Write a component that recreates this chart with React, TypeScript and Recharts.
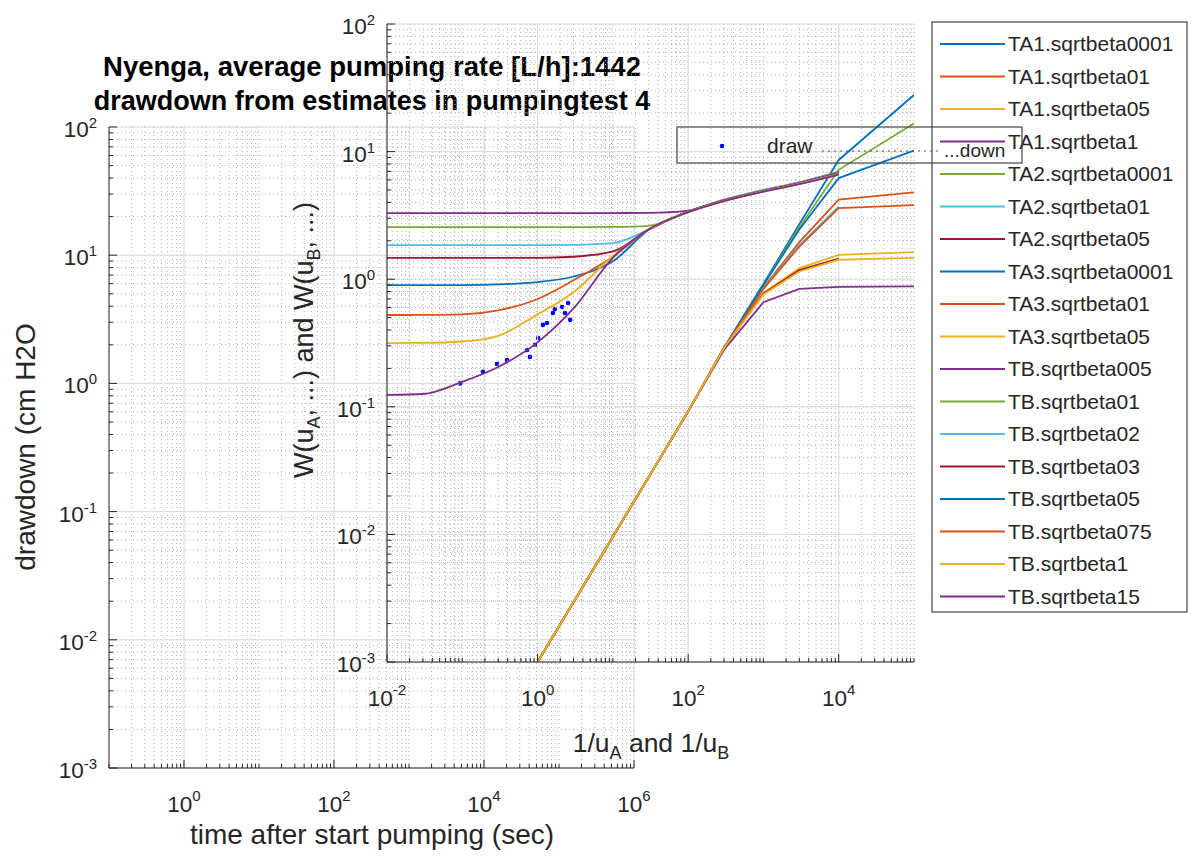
import React from "react";
import {
  CartesianGrid,
  ComposedChart,
  Line,
  LineChart,
  ReferenceLine,
  Scatter,
  XAxis,
  YAxis,
} from "recharts";

const FONT = '"Liberation Sans", Arial, Helvetica, sans-serif';
const INK = "#262626";

// outer axes: measured drawdown, pumpingtest 4
const timeSec = [4800, 9700, 14900, 20300, 37500, 41000, 48000, 52700, 61000, 69000, 83000, 88000, 110000, 120000, 132000, 141000];
const drawdownCm = [1.0, 1.23, 1.42, 1.52, 1.82, 1.61, 2.0, 2.26, 2.86, 2.96, 3.54, 3.8, 3.94, 3.54, 4.24, 3.13];

// labelled decades (exponents)
const outerXDecades = [0, 2, 4, 6];
const outerYDecades = [-3, -2, -1, 0, 1, 2];
const innerXDecades = [-2, 0, 2, 4];
const innerYDecades = [-3, -2, -1, 0, 1, 2];

// type A curves, x = 1/u_A
const typeAX = [1, 10, 100, 300, 1000, 3000, 10000, 100000];
const typeAXShort = [1, 10, 100, 300, 1000, 3000, 10000];
const ta1Beta0001 = [0.001, 0.0096, 0.092, 0.29, 0.92, 2.7, 8.6, 27.8];
const ta1Beta01 = [0.001, 0.0096, 0.092, 0.29, 0.86, 1.95, 4.2, 4.8];
const ta1Beta05 = [0.001, 0.0096, 0.092, 0.29, 0.78, 1.22, 1.55, 1.63];
const ta1Beta1 = [0.001, 0.0096, 0.092, 0.28, 0.66, 0.84, 0.87, 0.88];
const ta2Beta0001 = [0.001, 0.0096, 0.092, 0.29, 0.91, 2.55, 7.2, 16.6];
const ta2Beta01 = [0.001, 0.0096, 0.092, 0.29, 0.85, 1.85, 3.7];
const ta2Beta05 = [0.001, 0.0096, 0.092, 0.29, 0.77, 1.18, 1.45];
const ta3Beta0001 = [0.001, 0.0096, 0.092, 0.29, 0.9, 2.45, 6.2, 10.2];
const ta3Beta01 = [0.001, 0.0096, 0.092, 0.29, 0.84, 1.8, 3.6, 3.8];
const ta3Beta05 = [0.001, 0.0096, 0.092, 0.29, 0.76, 1.15, 1.42, 1.47];

// type B curves, x = 1/u_B
const typeBX = [0.01, 0.03, 0.1, 0.3, 1, 3, 10, 30, 100, 300, 1000, 3000, 10000];
const tbBeta005 = [3.3, 3.3, 3.3, 3.3, 3.3, 3.3, 3.3, 3.31, 3.45, 4.2, 5.0, 5.75, 6.95];
const tbBeta01 = [2.56, 2.56, 2.56, 2.56, 2.56, 2.56, 2.57, 2.62, 3.4, 4.18, 4.98, 5.72, 6.9];
const tbBeta02 = [1.85, 1.85, 1.85, 1.85, 1.85, 1.86, 1.92, 2.45, 3.4, 4.16, 4.95, 5.7, 6.85];
const tbBeta03 = [1.47, 1.47, 1.47, 1.47, 1.47, 1.5, 1.65, 2.45, 3.38, 4.15, 4.92, 5.66, 6.8];
const tbBeta05 = [0.9, 0.9, 0.9, 0.91, 0.95, 1.05, 1.38, 2.44, 3.37, 4.13, 4.9, 5.63, 6.75];
const tbBeta075 = [0.524, 0.525, 0.53, 0.57, 0.7, 0.98, 1.5, 2.45, 3.36, 4.12, 4.88, 5.6, 6.7];
const tbBeta1 = [0.316, 0.317, 0.325, 0.36, 0.53, 0.79, 1.52, 2.46, 3.36, 4.1, 4.86, 5.58, 6.65];
const tbBeta15 = [0.124, 0.126, 0.157, 0.205, 0.32, 0.59, 1.47, 2.46, 3.35, 4.1, 4.85, 5.55, 6.6];

const BLUE = "#0072BD";
const ORANGE = "#D95319";
const YELLOW = "#EDB120";
const PURPLE = "#7E2F8E";
const GREEN = "#77AC30";
const CYAN = "#4DBEEE";
const RED = "#A2142F";

const series = [
  { name: "TA1.sqrtbeta0001", color: BLUE, xs: typeAX, ys: ta1Beta0001, curve: "linear" },
  { name: "TA1.sqrtbeta01", color: ORANGE, xs: typeAX, ys: ta1Beta01, curve: "linear" },
  { name: "TA1.sqrtbeta05", color: YELLOW, xs: typeAX, ys: ta1Beta05, curve: "linear" },
  { name: "TA1.sqrtbeta1", color: PURPLE, xs: typeAX, ys: ta1Beta1, curve: "linear" },
  { name: "TA2.sqrtbeta0001", color: GREEN, xs: typeAX, ys: ta2Beta0001, curve: "linear" },
  { name: "TA2.sqrtbeta01", color: CYAN, xs: typeAXShort, ys: ta2Beta01, curve: "linear" },
  { name: "TA2.sqrtbeta05", color: RED, xs: typeAXShort, ys: ta2Beta05, curve: "linear" },
  { name: "TA3.sqrtbeta0001", color: BLUE, xs: typeAX, ys: ta3Beta0001, curve: "linear" },
  { name: "TA3.sqrtbeta01", color: ORANGE, xs: typeAX, ys: ta3Beta01, curve: "linear" },
  { name: "TA3.sqrtbeta05", color: YELLOW, xs: typeAX, ys: ta3Beta05, curve: "linear" },
  { name: "TB.sqrtbeta005", color: PURPLE, xs: typeBX, ys: tbBeta005, curve: "monotoneX" },
  { name: "TB.sqrtbeta01", color: GREEN, xs: typeBX, ys: tbBeta01, curve: "monotoneX" },
  { name: "TB.sqrtbeta02", color: CYAN, xs: typeBX, ys: tbBeta02, curve: "monotoneX" },
  { name: "TB.sqrtbeta03", color: RED, xs: typeBX, ys: tbBeta03, curve: "monotoneX" },
  { name: "TB.sqrtbeta05", color: BLUE, xs: typeBX, ys: tbBeta05, curve: "monotoneX" },
  { name: "TB.sqrtbeta075", color: ORANGE, xs: typeBX, ys: tbBeta075, curve: "monotoneX" },
  { name: "TB.sqrtbeta1", color: YELLOW, xs: typeBX, ys: tbBeta1, curve: "monotoneX" },
  { name: "TB.sqrtbeta15", color: PURPLE, xs: typeBX, ys: tbBeta15, curve: "monotoneX" },
];

// all log ticks 1..9 x 10^e between two decades
const logTicks = (lo: number, hi: number) => {
  const out: number[] = [];
  for (let e = lo; e < hi; e++) {
    for (let k = 1; k < 10; k++) out.push(Number((k * Math.pow(10, e)).toPrecision(3)));
  }
  out.push(Math.pow(10, hi));
  return out;
};

const decadeValues = (exps: number[]) => exps.map((e) => Number(Math.pow(10, e).toPrecision(3)));

const LogTick = (props: any) => {
  const { x = 0, y = 0, payload, side, labelled } = props;
  const v = payload ? payload.value : 1;
  const e = Math.log10(v);
  const exp = Math.round(e);
  const major = Math.abs(e - exp) < 1e-6 && labelled.includes(exp);
  const len = major ? 8 : 4;
  let tickLine = null;
  if (side === "bottom") tickLine = <line x1={x} y1={y} x2={x} y2={y - len} stroke={INK} />;
  if (side === "top") tickLine = <line x1={x} y1={y} x2={x} y2={y + len} stroke={INK} />;
  if (side === "left") tickLine = <line x1={x} y1={y} x2={x + len} y2={y} stroke={INK} />;
  if (side === "right") tickLine = <line x1={x} y1={y} x2={x - len} y2={y} stroke={INK} />;
  const showLabel = major && (side === "bottom" || side === "left");
  return (
    <g>
      {tickLine}
      {showLabel && (
        <text
          x={side === "bottom" ? x : x - 12}
          y={side === "bottom" ? y + 44 : y + 10}
          textAnchor={side === "bottom" ? "middle" : "end"}
          fontSize={22.5}
          fontFamily={FONT}
          fill={INK}>
          10
          <tspan dy={side === "bottom" ? -11 : -9} fontSize={15}>
            {exp}
          </tspan>
        </text>
      )}
    </g>
  );
};

const outerXTicks = logTicks(-1, 6);
const outerYTicks = logTicks(-3, 2);
const innerXTicks = logTicks(-2, 5);
const innerYTicks = logTicks(-3, 2);

const drawdownData = timeSec.map((t, i) => ({ t, s: drawdownCm[i] }));

const MINOR_GRID = "#b4b4b4";
const MAJOR_GRID = "#dcdcdc";

const OuterAxes = () => (
  <ComposedChart width={1192} height={859} margin={{ top: 127, right: 558, bottom: 61, left: 49 }}>
    <CartesianGrid stroke={MINOR_GRID} strokeDasharray="1 3" />
    {decadeValues(outerXDecades).map((v) => (
      <ReferenceLine key={"ox" + v} x={v} stroke={MAJOR_GRID} />
    ))}
    {decadeValues(outerYDecades).map((v) => (
      <ReferenceLine key={"oy" + v} y={v} stroke={MAJOR_GRID} />
    ))}
    <XAxis
      dataKey="t"
      type="number"
      scale="log"
      domain={[0.1, 1e6]}
      allowDataOverflow
      ticks={outerXTicks}
      interval={0}
      tickSize={0}
      tickMargin={0}
      height={30}
      stroke={INK}
      tick={(p: any) => <LogTick x={p.x} y={p.y} payload={p.payload} side="bottom" labelled={outerXDecades} />}
    />
    <XAxis
      xAxisId="top"
      orientation="top"
      type="number"
      scale="log"
      domain={[0.1, 1e6]}
      allowDataOverflow
      ticks={outerXTicks}
      interval={0}
      tickSize={0}
      tickMargin={0}
      height={0}
      stroke={INK}
      tick={(p: any) => <LogTick x={p.x} y={p.y} payload={p.payload} side="top" labelled={outerXDecades} />}
    />
    <YAxis
      dataKey="s"
      type="number"
      scale="log"
      domain={[0.001, 100]}
      allowDataOverflow
      ticks={outerYTicks}
      interval={0}
      tickSize={0}
      tickMargin={0}
      width={60}
      stroke={INK}
      tick={(p: any) => <LogTick x={p.x} y={p.y} payload={p.payload} side="left" labelled={outerYDecades} />}
    />
    <YAxis
      yAxisId="right"
      orientation="right"
      type="number"
      scale="log"
      domain={[0.001, 100]}
      allowDataOverflow
      ticks={outerYTicks}
      interval={0}
      tickSize={0}
      tickMargin={0}
      width={0}
      stroke={INK}
      tick={(p: any) => <LogTick x={p.x} y={p.y} payload={p.payload} side="right" labelled={outerYDecades} />}
    />
    <Scatter
      name="drawdown"
      data={drawdownData}
      isAnimationActive={false}
      shape={(p: any) => <circle cx={p.cx} cy={p.cy} r={2.3} fill="#0000ff" />}
    />
  </ComposedChart>
);

const InnerAxes = () => (
  <LineChart width={1192} height={859} margin={{ top: 24, right: 278, bottom: 167, left: 327 }}>
    <CartesianGrid stroke={MINOR_GRID} strokeDasharray="1 3" />
    {decadeValues(innerXDecades).map((v) => (
      <ReferenceLine key={"ix" + v} x={v} stroke={MAJOR_GRID} />
    ))}
    {decadeValues(innerYDecades).map((v) => (
      <ReferenceLine key={"iy" + v} y={v} stroke={MAJOR_GRID} />
    ))}
    <XAxis
      dataKey="x"
      type="number"
      scale="log"
      domain={[0.01, 1e5]}
      allowDataOverflow
      ticks={innerXTicks}
      interval={0}
      tickSize={0}
      tickMargin={0}
      height={30}
      stroke={INK}
      tick={(p: any) => <LogTick x={p.x} y={p.y} payload={p.payload} side="bottom" labelled={innerXDecades} />}
    />
    <XAxis
      xAxisId="top"
      orientation="top"
      type="number"
      scale="log"
      domain={[0.01, 1e5]}
      allowDataOverflow
      ticks={innerXTicks}
      interval={0}
      tickSize={0}
      tickMargin={0}
      height={0}
      stroke={INK}
      tick={(p: any) => <LogTick x={p.x} y={p.y} payload={p.payload} side="top" labelled={innerXDecades} />}
    />
    <YAxis
      type="number"
      scale="log"
      domain={[0.001, 100]}
      allowDataOverflow
      ticks={innerYTicks}
      interval={0}
      tickSize={0}
      tickMargin={0}
      width={60}
      stroke={INK}
      tick={(p: any) => <LogTick x={p.x} y={p.y} payload={p.payload} side="left" labelled={innerYDecades} />}
    />
    <YAxis
      yAxisId="right"
      orientation="right"
      type="number"
      scale="log"
      domain={[0.001, 100]}
      allowDataOverflow
      ticks={innerYTicks}
      interval={0}
      tickSize={0}
      tickMargin={0}
      width={0}
      stroke={INK}
      tick={(p: any) => <LogTick x={p.x} y={p.y} payload={p.payload} side="right" labelled={innerYDecades} />}
    />
    {series.map((s) => (
      <Line
        key={s.name}
        name={s.name}
        data={s.xs.map((x, i) => ({ x, w: s.ys[i] }))}
        dataKey="w"
        type={s.curve as any}
        stroke={s.color}
        strokeWidth={1.8}
        dot={false}
        isAnimationActive={false}
      />
    ))}
  </LineChart>
);

const layer: React.CSSProperties = { position: "absolute", left: 0, top: 0 };

export default function App() {
  return (
    <div style={{ position: "absolute", left: 0, top: 0, width: 1192, height: 859, background: "#fff", fontFamily: FONT }}>
      <div style={layer}>
        <OuterAxes />
      </div>
      <svg style={layer} width={1192} height={859}>
        <g fontFamily={FONT} fill={INK}>
          <text x={372} y={76} textAnchor="middle" fontSize={27.5} fontWeight="bold" fill="#000">
            Nyenga, average pumping rate [L/h]:1442
          </text>
          <text x={372} y={110} textAnchor="middle" fontSize={27} fontWeight="bold" fill="#000">
            drawdown from estimates in pumpingtest 4
          </text>
          <text x={372} y={844} textAnchor="middle" fontSize={28}>
            time after start pumping (sec)
          </text>
          <text transform="translate(35,447) rotate(-90)" textAnchor="middle" fontSize={28}>
            drawdown (cm H2O
          </text>
        </g>
      </svg>
      <div style={layer}>
        <InnerAxes />
      </div>
      <svg style={layer} width={1192} height={859}>
        <g fontFamily={FONT} fill={INK}>
          <text x={651} y={752} textAnchor="middle" fontSize={26.5}>
            1/u
            <tspan dy={7} fontSize={18}>
              A
            </tspan>
            <tspan dy={-7}> and 1/u</tspan>
            <tspan dy={7} fontSize={18}>
              B
            </tspan>
          </text>
          <text transform="translate(313,340) rotate(-90)" textAnchor="middle" fontSize={27}>
            W(u
            <tspan dy={7} fontSize={18}>
              A
            </tspan>
            <tspan dy={-7}>, ...) and W(u</tspan>
            <tspan dy={7} fontSize={18}>
              B
            </tspan>
            <tspan dy={-7}>, ...)</tspan>
          </text>
        </g>
        <rect x={932} y={22} width={255} height={590} fill="#fff" stroke="#444" strokeWidth={1.2} />
        {series.map((s, i) => (
          <g key={s.name}>
            <line x1={940} y1={44 + i * 32.5} x2={1005} y2={44 + i * 32.5} stroke={s.color} strokeWidth={1.8} />
            <text x={1008} y={51 + i * 32.5} fontSize={21} fontFamily={FONT} fill={INK}>
              {s.name}
            </text>
          </g>
        ))}
        <g fontFamily={FONT}>
          <rect x={677} y={127} width={345} height={36} fill="none" stroke="#444" strokeWidth={1.2} />
          <circle cx={722} cy={146} r={2.3} fill="#0000ff" />
          <text x={767} y={153} fontSize={21} fill={INK}>
            draw
          </text>
          <line x1={822} y1={151} x2={942} y2={151} stroke="#555" strokeDasharray="2 4" />
          <text x={944} y={157} fontSize={19} fill={INK}>
            ...down
          </text>
        </g>
      </svg>
    </div>
  );
}
